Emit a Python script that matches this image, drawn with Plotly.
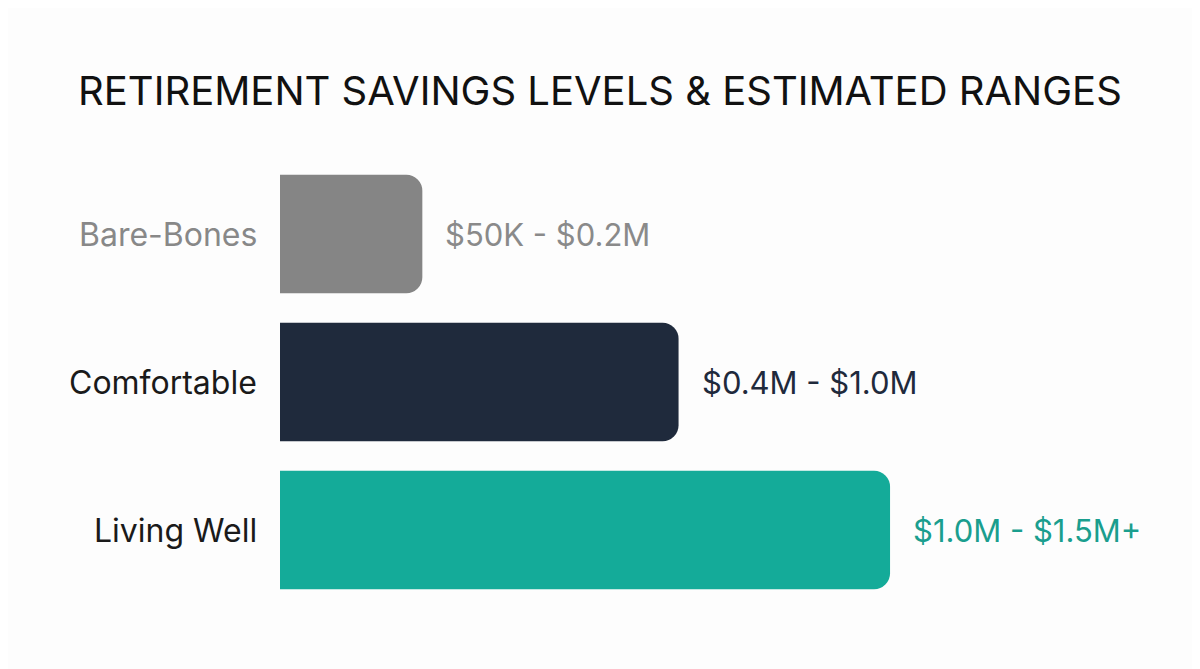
import plotly.graph_objects as go

categories = ["Bare-Bones", "Comfortable", "Living Well"]
bar_values = [0.35, 0.98, 1.5]
range_labels = ["$50K - $0.2M", "$0.4M - $1.0M", "$1.0M - $1.5M+"]
bar_colors = ["#858585", "#1f2a3c", "#14ab99"]
category_colors = ["#888888", "#1a1a1a", "#1a1a1a"]
value_colors = ["#8a8a8a", "#1f2a3c", "#1a9e8e"]
title_text = "RETIREMENT SAVINGS LEVELS & ESTIMATED RANGES"

FONT = "Inter, Lato, sans-serif"

fig = go.Figure(go.Bar(
    x=bar_values,
    y=categories,
    orientation="h",
    marker=dict(color=bar_colors, line=dict(width=0)),
    width=0.8,
    hoverinfo="skip",
))

annotations = []
for cat, val, lab, ccol, vcol in zip(categories, bar_values, range_labels,
                                     category_colors, value_colors):
    annotations.append(dict(
        x=0, y=cat, xref="x", yref="y", text=cat, showarrow=False,
        xanchor="right", yanchor="middle", xshift=-21,
        font=dict(family=FONT, size=32, color=ccol),
    ))
    annotations.append(dict(
        x=val, y=cat, xref="x", yref="y", text=lab, showarrow=False,
        xanchor="left", yanchor="middle", xshift=21,
        font=dict(family=FONT, size=31, color=vcol),
    ))

fig.update_layout(
    width=1200, height=669,
    margin=dict(l=272, r=78, t=152, b=73),
    paper_bgcolor="#fdfdfd", plot_bgcolor="#fdfdfd",
    barcornerradius=16,
    showlegend=False,
    title=dict(text=title_text, x=0.4933, xanchor="center", y=0.876, yanchor="middle",
               xref="container", yref="container",
               font=dict(family=FONT, size=40, color="#111111")),
    xaxis=dict(range=[0, 2.09], visible=False, fixedrange=True),
    yaxis=dict(autorange="reversed", visible=False, fixedrange=True),
    annotations=annotations,
)
fig.write_html("out.html")
